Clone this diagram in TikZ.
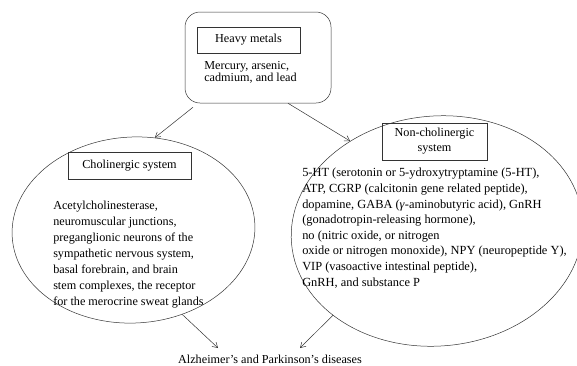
\documentclass[tikz,border=0pt]{standalone}
\usepackage{fontspec}
\setmainfont{Liberation Serif}
\usetikzlibrary{arrows.meta}
\usetikzlibrary{shapes.geometric}

\begin{document}
\begin{tikzpicture}[x=1pt,y=-1pt,line width=0.5pt,
    txt/.style={font=\fontsize{12.2}{16}\selectfont},
    title/.style={draw=black!80,txt,inner sep=0pt},
    blob/.style={ellipse,draw=black!80,inner sep=0pt},
    arr/.style={draw=black!80,-{Straight Barb[length=5pt,width=6pt]}}]
    \useasboundingbox (0,0) rectangle (577,365);
    % top box
    \node[draw=black!80,rounded corners=15pt,minimum width=146,minimum height=91] (top) at (258,57.5) {};
    \node[title,minimum width=103,minimum height=26] (metal) at (248.5,40) {Heavy metals};
    \node[txt,anchor=north west,align=left,inner sep=0pt,font=\fontsize{12.2}{12.4}\selectfont] (metaltxt) at (204,61) {Mercury, arsenic,\\cadmium, and lead};
    % the two systems
    \node[blob,rotate=3,minimum width=243,minimum height=186] (chol) at (133.5,230) {};
    \node[blob,rotate=5,minimum width=292,minimum height=230] (noch) at (437,231) {};
    \node[title,minimum width=123,minimum height=27] (choltitle) at (129.5,165.5) {Cholinergic system};
    \node[title,minimum width=105,minimum height=37,align=center,font=\fontsize{12.2}{15}\selectfont] (nochtitle) at (434.5,141.5) {Non-cholinergic\\system};
    \node[txt,anchor=north west,align=left,inner sep=0pt] (choltxt) at (53,201) {Acetylcholinesterase,\\neuromuscular junctions,\\preganglionic neurons of the\\sympathetic nervous system,\\basal forebrain, and brain\\stem complexes, the receptor\\for the merocrine sweat glands};
    \node[txt,anchor=north west,align=left,inner sep=0pt,font=\fontsize{12.4}{15.6}\selectfont] (nochtxt) at (302,168) {5-HT (serotonin or 5-ydroxytryptamine (5-HT),\\ATP, CGRP (calcitonin gene related peptide),\\dopamine, GABA (\textit{γ}-aminobutyric acid), GnRH\\(gonadotropin-releasing hormone),\\no (nitric oxide, or nitrogen\\oxide or nitrogen monoxide), NPY (neuropeptide Y),\\VIP (vasoactive intestinal peptide),\\GnRH, and substance P};
    % diseases
    \node[txt] (dis) at (270,359) {Alzheimer’s and Parkinson’s diseases};
    \coordinate (dl) at (218,348);
    \coordinate (dr) at (300,348);
    \draw[arr] ([xshift=-65pt,yshift=-4pt]top.south) -- (chol.74);
    \draw[arr] ([xshift=30pt]top.south) -- (noch.129);
    \draw[arr] (chol.-63) -- (dl);
    \draw[arr] (noch.214) -- (dr);
\end{tikzpicture}
\end{document}
